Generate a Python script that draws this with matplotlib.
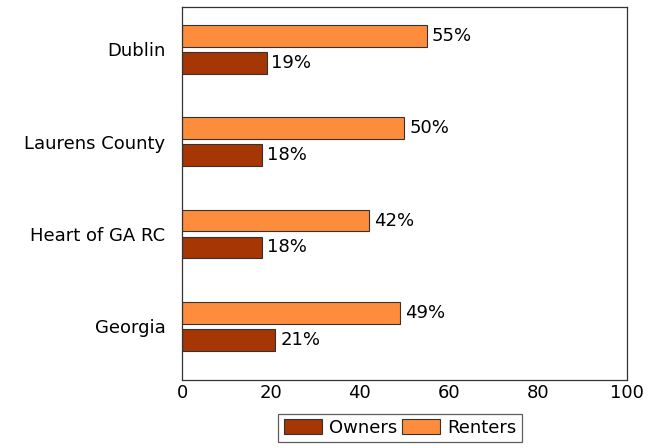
import matplotlib.pyplot as plt
import numpy as np

categories = ["Georgia", "Heart of GA RC", "Laurens County", "Dublin"]
owners = [21, 18, 18, 19]
renters = [49, 42, 50, 55]
xticks = [0, 20, 40, 60, 80, 100]

owner_color = "#a63603"
renter_color = "#fd8d3c"

fig = plt.figure(figsize=(6.58, 4.48), dpi=100)
ax = fig.add_axes([0.2766, 0.152, 0.676, 0.832])

y = np.arange(len(categories))
h = 0.235
off = 0.145
b1 = ax.barh(y - off, owners, height=h, color=owner_color, edgecolor="#333333",
             linewidth=0.8, label="Owners")
b2 = ax.barh(y + off, renters, height=h, color=renter_color, edgecolor="#333333",
             linewidth=0.8, label="Renters")
for bars, vals in ((b1, owners), (b2, renters)):
    for rect, v in zip(bars, vals):
        ax.text(v + 1.1, rect.get_y() + rect.get_height() / 2, f"{v}%",
                va="center", ha="left", fontsize=13)

ax.set_xlim(0, 100)
ax.set_ylim(-0.58, 3.457)
ax.set_xticks(xticks)
ax.set_xticklabels([str(t) for t in xticks], fontsize=13)
ax.set_yticks(y)
ax.set_yticklabels(categories, fontsize=13)
ax.tick_params(axis="x", length=0, pad=3)
ax.tick_params(axis="y", length=0, pad=12)
for s in ax.spines.values():
    s.set_color("#333333")
    s.set_linewidth(0.9)

leg = fig.legend(handles=[b1, b2], loc="center", bbox_to_anchor=(0.608, 0.0446),
                 ncol=2, fontsize=13, frameon=True, fancybox=False,
                 edgecolor="#333333", handlelength=2.1, handleheight=0.9,
                 handletextpad=0.38, columnspacing=0.3, borderpad=0.3,
                 borderaxespad=0)
leg.get_frame().set_linewidth(0.9)

fig.savefig("out.png", dpi=100)
